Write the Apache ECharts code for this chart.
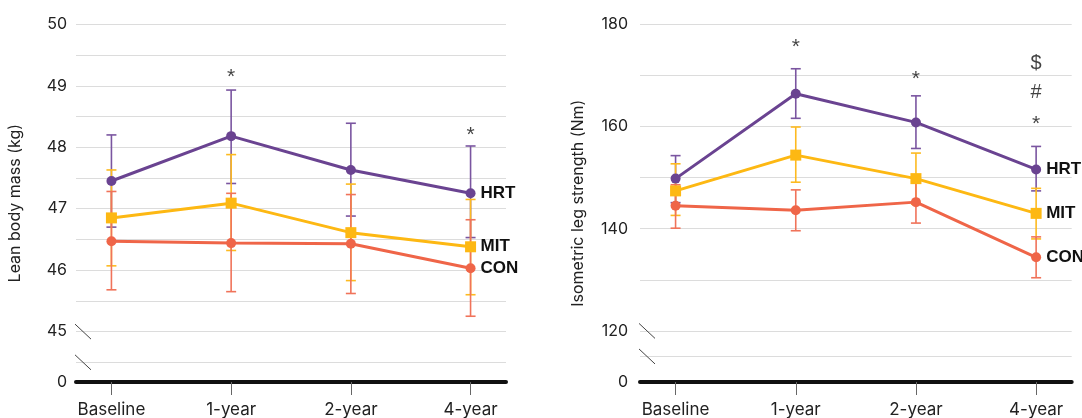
<!DOCTYPE html>
<html>
<head>
<meta charset="utf-8">
<script src="https://cdn.jsdelivr.net/npm/echarts@6/dist/echarts.min.js"></script>
<style>
html,body{margin:0;padding:0;background:#fff;}
#chart{width:1082px;height:418px;}
</style>
</head>
<body>
<div id="chart"></div>
<script>
// ---------- data ----------
const categories = ['Baseline', '1-year', '2-year', '4-year'];
const groups = ['HRT', 'MIT', 'CON'];

// Lean body mass (kg)
const leanHRT   = [47.45, 48.18, 47.63, 47.25];
const leanHRTLo = [46.70, 47.41, 46.88, 46.53];
const leanHRTHi = [48.20, 48.93, 48.39, 48.02];
const leanMIT   = [46.85, 47.09, 46.61, 46.38];
const leanMITLo = [46.07, 46.32, 45.83, 45.60];
const leanMITHi = [47.63, 47.88, 47.40, 47.15];
const leanCON   = [46.47, 46.44, 46.43, 46.03];
const leanCONLo = [45.68, 45.65, 45.62, 45.25];
const leanCONHi = [47.28, 47.25, 47.23, 46.82];

// Isometric leg strength (Nm)
const strHRT   = [149.8, 166.4, 160.8, 151.6];
const strHRTLo = [145.1, 161.6, 155.7, 147.4];
const strHRTHi = [154.3, 171.3, 166.0, 156.1];
const strMIT   = [147.4, 154.4, 149.8, 143.0];
const strMITLo = [142.6, 149.1, 144.8, 138.0];
const strMITHi = [152.7, 159.9, 154.8, 147.9];
const strCON   = [144.5, 143.6, 145.2, 134.4];
const strCONLo = [140.1, 139.6, 141.1, 130.4];
const strCONHi = [148.6, 147.6, 149.2, 138.4];

// significance annotations: [category index, value, text]
const leanMarks = [[1, 49.22, '*'], [3, 48.28, '*']];
const strMarks  = [[1, 176.4, '*'], [2, 170.2, '*'], [3, 172.4, '$'], [3, 166.6, '#'], [3, 161.5, '*']];

// axes (broken axes: bottom shown as 0)
const leanAxisBottom = 44.18, leanAxisTop = 50;
const leanLabelValues = [44.18, 45, 46, 47, 48, 49, 50];
const leanLabelTexts  = ['0', '45', '46', '47', '48', '49', '50'];
const leanGridValues  = [44.5, 45, 45.5, 46, 46.5, 47, 47.5, 48, 48.5, 49, 49.5, 50];
const leanBreaks = [45, 44.5];

const strAxisBottom = 110, strAxisTop = 180;
const strLabelValues = [110, 120, 140, 160, 180];
const strLabelTexts  = ['0', '120', '140', '160', '180'];
const strGridValues  = [115, 120, 130, 140, 150, 160, 170, 180];
const strBreaks = [120, 115];

// ---------- styling ----------
const colors = {HRT: '#6A4391', MIT: '#FDB813', CON: '#EF6548'};
const errColors = {HRT: '#7A55A0', MIT: '#FDBA20', CON: '#F0735A'};
const symbols = {HRT: 'circle', MIT: 'rect', CON: 'circle'};
const FONT = 'Inter, "Noto Sans", sans-serif';

const xMin = -0.296, xMax = 3.296;

function pts(arr) { return arr.map((v, i) => [i, v]); }
function errPts(lo, hi) { return lo.map((v, i) => [i, v, hi[i]]); }

function errRender(color) {
  return function (params, api) {
    const x = api.value(0);
    const pLo = api.coord([x, api.value(1)]);
    const pHi = api.coord([x, api.value(2)]);
    const w = 5;
    const style = {stroke: color, lineWidth: 1.6, fill: null};
    return {
      type: 'group',
      children: [
        {type: 'line', shape: {x1: pHi[0], y1: pHi[1], x2: pLo[0], y2: pLo[1]}, style},
        {type: 'line', shape: {x1: pHi[0] - w, y1: pHi[1], x2: pHi[0] + w, y2: pHi[1]}, style},
        {type: 'line', shape: {x1: pLo[0] - w, y1: pLo[1], x2: pLo[0] + w, y2: pLo[1]}, style}
      ]
    };
  };
}

function xAxisDef(gridIndex) {
  return {
    type: 'value', gridIndex, min: xMin, max: xMax,
    axisLine: {show: true, onZero: false, lineStyle: {color: '#111', width: 4}},
    axisTick: {show: true, customValues: [0, 1, 2, 3], length: 13, lineStyle: {color: '#666', width: 1}},
    axisLabel: {show: true, customValues: [0, 1, 2, 3], formatter: v => categories[Math.round(v)],
      fontFamily: FONT, fontSize: 17, color: '#222', margin: 19},
    splitLine: {show: false}
  };
}

function yAxisDef(gridIndex, min, max, labelVals, labelTexts, gridVals, name, margin, gap) {
  return {
    type: 'value', gridIndex, min, max,
    name, nameLocation: 'middle', nameGap: gap,
    nameTextStyle: {fontFamily: FONT, fontSize: 16, color: '#222'},
    axisLine: {show: false},
    axisTick: {show: false, customValues: gridVals},
    axisLabel: {show: true, customValues: labelVals, margin,
      formatter: v => { const i = labelVals.findIndex(t => Math.abs(t - v) < 1e-6); return i >= 0 ? labelTexts[i] : ''; },
      fontFamily: FONT, fontSize: 16, color: '#222'},
    splitLine: {show: true, lineStyle: {color: '#dcdcdc', width: 1}}
  };
}

function chartSeries(idx, data) {
  const out = [];
  groups.forEach(g => {
    out.push({
      type: 'custom', xAxisIndex: idx, yAxisIndex: idx, z: 2,
      renderItem: errRender(errColors[g]),
      encode: {x: 0, y: [1, 2]},
      data: errPts(data[g].lo, data[g].hi), silent: true
    });
  });
  groups.slice().reverse().forEach(g => {
    out.push({
      type: 'line', name: g, xAxisIndex: idx, yAxisIndex: idx, z: 3,
      data: pts(data[g].v),
      symbol: symbols[g], symbolSize: symbols[g] === 'rect' ? 11 : 10,
      itemStyle: {color: colors[g]},
      lineStyle: {color: colors[g], width: 3},
      animation: false,
      endLabel: {show: true, formatter: g, distance: 10,
        fontFamily: '"Liberation Sans", Arial, sans-serif', fontWeight: 'bold', fontSize: 17, color: '#111'}
    });
  });
  return out;
}

function markSeries(idx, marks) {
  return {
    type: 'scatter', xAxisIndex: idx, yAxisIndex: idx, z: 4,
    symbolSize: 1, itemStyle: {color: 'rgba(0,0,0,0)'},
    data: marks.map(m => ({value: [m[0], m[1]], name: m[2],
      label: {offset: m[2] === '*' ? [0, 5] : [0, 0], fontSize: m[2] === '*' ? 21 : 20}})),
    label: {show: true, position: 'inside', formatter: p => p.name,
      fontFamily: '"Liberation Sans", Arial, sans-serif', color: '#111'},
    silent: true, animation: false
  };
}

const leanData = {
  HRT: {v: leanHRT, lo: leanHRTLo, hi: leanHRTHi},
  MIT: {v: leanMIT, lo: leanMITLo, hi: leanMITHi},
  CON: {v: leanCON, lo: leanCONLo, hi: leanCONHi}
};
const strData = {
  HRT: {v: strHRT, lo: strHRTLo, hi: strHRTHi},
  MIT: {v: strMIT, lo: strMITLo, hi: strMITHi},
  CON: {v: strCON, lo: strCONLo, hi: strCONHi}
};

const chart = echarts.init(document.getElementById('chart'), null, {renderer: 'canvas'});
chart.setOption({
  animation: false,
  backgroundColor: '#fff',
  grid: [
    {left: 76, width: 430, top: 24.3, bottom: 35.5},
    {left: 640, width: 431.7, top: 24.3, bottom: 35.5}
  ],
  xAxis: [xAxisDef(0), xAxisDef(1)],
  yAxis: [
    yAxisDef(0, leanAxisBottom, leanAxisTop, leanLabelValues, leanLabelTexts, leanGridValues, 'Lean body mass (kg)', 9, 53),
    yAxisDef(1, strAxisBottom, strAxisTop, strLabelValues, strLabelTexts, strGridValues, 'Isometric leg strength (Nm)', 12, 54)
  ],
  series: [].concat(chartSeries(0, leanData), [markSeries(0, leanMarks)],
                    chartSeries(1, strData), [markSeries(1, strMarks)])
});

// axis-break slashes placed through the axes' own scales
function breakGraphics(gridIndex, values) {
  return values.map(v => {
    const p = chart.convertToPixel({gridIndex}, [xMin, v]);
    return {type: 'line', z: 10,
      shape: {x1: p[0] - 1, y1: p[1] - 7.5, x2: p[0] + 15, y2: p[1] + 7.5},
      style: {stroke: '#444', lineWidth: 1}};
  });
}
chart.setOption({graphic: breakGraphics(0, leanBreaks).concat(breakGraphics(1, strBreaks))});
</script>
</body>
</html>
